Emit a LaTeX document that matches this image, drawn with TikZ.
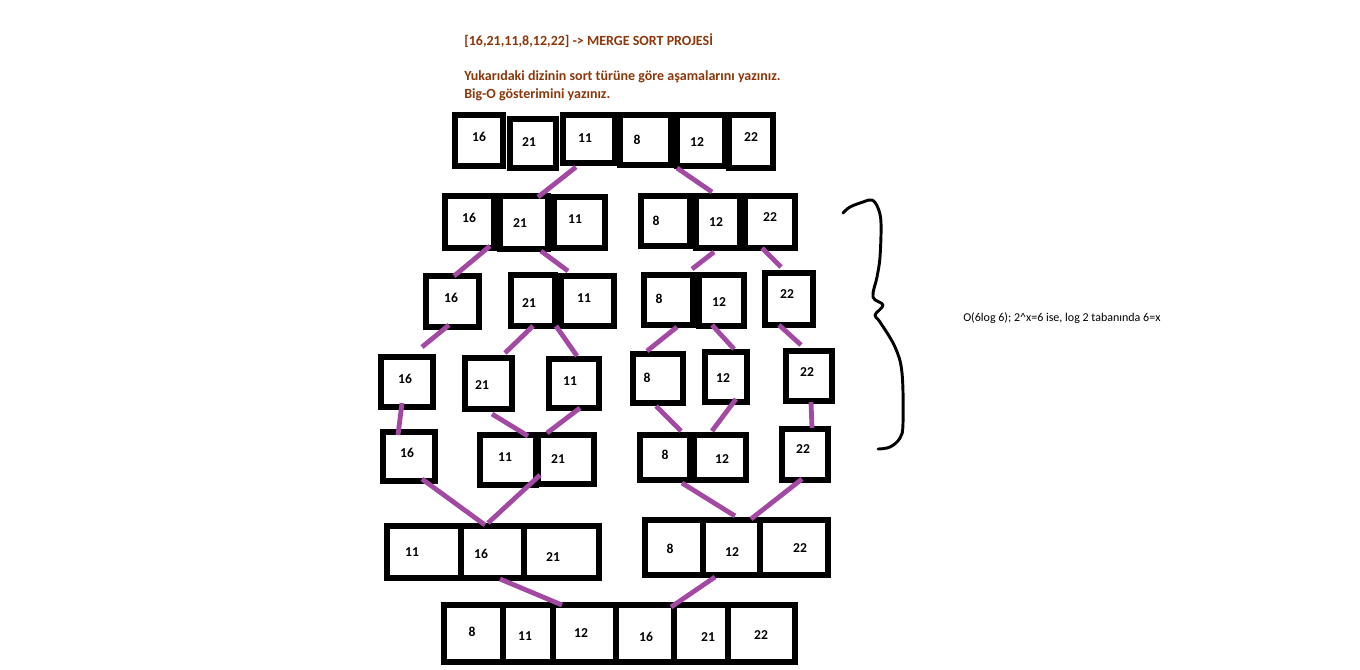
\documentclass[tikz,border=0pt]{standalone}
\usepackage{fontspec}
\setmainfont{Carlito}
\usetikzlibrary{fit,calc}
\definecolor{pline}{RGB}{163,73,164}
\definecolor{ttl}{RGB}{140,55,10}
\tikzset{
  cellbox/.style={draw=black, line width=4.2pt, inner sep=0pt, outer sep=0pt, rectangle},
  num/.style={font=\bfseries\fontsize{10.2}{12}\selectfont, inner sep=0pt, text=black},
  conn/.style={draw=pline, line width=3.6pt},
  ttltext/.style={font=\bfseries\fontsize{10.5}{12}\selectfont, text=ttl, anchor=west, inner sep=0pt},
  bracetext/.style={font=\fontsize{9}{11}\selectfont, text=black, anchor=west, inner sep=0pt},
  bracepath/.style={draw=black, line width=2.2pt, line cap=round, line join=round}
}
\newcommand\cell[8]{%
  \node[cellbox, fit={(#2,#3) (#4,#5)}] (#1) {};
  \node[num] (#1t) at (#7,#8) {#6};
}
\begin{document}
\begin{tikzpicture}[x=0.75pt,y=-0.75pt]
\useasboundingbox[fill=white] (0,0) rectangle (1360,669);

% titles
\node[ttltext] (title1) at (464,41) {[16,21,11,8,12,22] -> MERGE SORT PROJESİ};
\node[ttltext] (title2) at (464,77) {Yukarıdaki dizinin sort türüne göre aşamalarını yazınız.};
\node[ttltext] (title3) at (464,95) {Big-O gösterimini yazınız.};

% row 0
\cell{r0a}{455}{115}{503}{166}{16}{479}{137}
\cell{r0b}{510}{119}{556}{168}{21}{529}{142}
\cell{r0c}{563}{115}{615}{163}{11}{585}{138}
\cell{r0d}{620}{115}{671}{165}{8}{637}{140}
\cell{r0e}{677}{115}{725}{166}{12}{697}{142}
\cell{r0f}{729}{115}{773}{168}{22}{751}{137}

% row 1
\cell{r1a}{445}{196}{494}{248}{16}{469}{218}
\cell{r1b}{500}{196}{548}{249}{21}{520}{223}
\cell{r1c}{554}{197}{605}{248}{11}{575}{219}
\cell{r1d}{641}{196}{690}{246}{8}{656}{221}
\cell{r1e}{696}{196}{740}{248}{12}{716}{222}
\cell{r1f}{745}{196}{795}{248}{22}{770}{217}

% row 2
\cell{r2a}{426}{276}{479}{327}{16}{451}{298}
\cell{r2b}{511}{275}{555}{326}{21}{529}{303}
\cell{r2c}{561}{276}{614}{326}{11}{584}{298}
\cell{r2d}{644}{275}{693}{325}{8}{659}{299}
\cell{r2e}{699}{275}{744}{326}{12}{719}{302}
\cell{r2f}{765}{273}{813}{325}{22}{787}{294}

% row 3
\cell{r3a}{381}{357}{433}{407}{16}{405}{379}
\cell{r3b}{465}{358}{512}{409}{21}{482}{385}
\cell{r3c}{549}{359}{599}{408}{11}{570}{381}
\cell{r3d}{633}{354}{683}{403}{8}{647}{378}
\cell{r3e}{705}{352}{747}{402}{12}{723}{378}
\cell{r3f}{786}{351}{832}{401}{22}{807}{372}

% row 4
\cell{r4a}{383}{432}{435}{481}{16}{407}{453}
\cell{r4b}{480}{435}{536}{485}{11}{505}{457}
\cell{r4c}{538}{435}{594}{484}{21}{558}{459}
\cell{r4d}{640}{435}{690}{480}{8}{665}{455}
\cell{r4e}{694}{435}{746}{480}{12}{722}{459}
\cell{r4f}{782}{429}{828}{480}{22}{803}{449}

% row 5
\cell{r5a}{387}{526}{461}{578}{11}{412}{552}
\cell{r5b}{461}{526}{524}{578}{16}{481}{554}
\cell{r5c}{524}{526}{599}{578}{21}{553}{557}
\cell{r5d}{645}{520}{703}{575}{8}{670}{549}
\cell{r5e}{703}{520}{760}{575}{12}{732}{552}
\cell{r5f}{760}{520}{828}{575}{22}{800}{548}

% row 6
\cell{r6a}{444}{605}{503}{662}{8}{472}{632}
\cell{r6b}{503}{605}{553}{662}{11}{525}{636}
\cell{r6c}{553}{605}{616}{662}{12}{581}{633}
\cell{r6d}{616}{605}{674}{662}{16}{646}{637}
\cell{r6e}{674}{605}{728}{662}{21}{708}{637}
\cell{r6f}{728}{605}{795}{662}{22}{761}{635}

% connectors
\draw[conn] ($(r0c.south west)+(13,4)$) -- ($(r1b.north west)+(38,1)$);
\draw[conn] ($(r0e.south west)+(0,2)$) -- ($(r1e.north west)+(16,-4)$);
\draw[conn] ($(r1a.south west)+(45,-2)$) -- ($(r2a.north west)+(28,0)$);
\draw[conn] ($(r1b.south west)+(41,2)$) -- ($(r2c.north west)+(7,-5)$);
\draw[conn] ($(r1e.south west)+(18,4)$) -- ($(r2d.north west)+(48,-6)$);
\draw[conn] ($(r1f.south west)+(17,0)$) -- ($(r2f.north west)+(16,-6)$);
\draw[conn] ($(r2a.south west)+(23,-2)$) -- ($(r3a.north west)+(41,-10)$);
\draw[conn] ($(r2b.south west)+(22,0)$) -- ($(r3b.north west)+(40,-5)$);
\draw[conn] ($(r2c.south west)+(-5,0)$) -- ($(r3c.north west)+(28,-3)$);
\draw[conn] ($(r2d.south west)+(33,2)$) -- ($(r3d.north west)+(14,-3)$);
\draw[conn] ($(r2e.south west)+(13,-1)$) -- ($(r3e.north west)+(29,-3)$);
\draw[conn] ($(r2f.south west)+(14,0)$) -- ($(r3f.north west)+(15,-6)$);
\draw[conn] ($(r3a.south west)+(21,-4)$) -- ($(r4a.north west)+(15,3)$);
\draw[conn] ($(r3b.south west)+(27,5)$) -- ($(r4b.north west)+(48,1)$);
\draw[conn] ($(r3c.south west)+(31,0)$) -- ($(r4c.north west)+(9,-2)$);
\draw[conn] ($(r3d.south west)+(23,3)$) -- ($(r4d.north west)+(41,-4)$);
\draw[conn] ($(r3e.south west)+(31,-3)$) -- ($(r4e.north west)+(18,-4)$);
\draw[conn] ($(r3f.south west)+(25,1)$) -- ($(r4f.north west)+(30,-1)$);
\draw[conn] ($(r4a.south west)+(39,-2)$) -- ($(r5b.north west)+(24,-1)$);
\draw[conn] ($(r4c.south west)+(2,-9)$) -- ($(r5b.north west)+(27,-3)$);
\draw[conn] ($(r4d.south west)+(42,3)$) -- ($(r5e.north west)+(32,-4)$);
\draw[conn] ($(r4f.south west)+(20,-1)$) -- ($(r5e.north west)+(48,-1)$);
\draw[conn] ($(r5b.south west)+(39,1)$) -- ($(r6c.north west)+(9,0)$);
\draw[conn] ($(r5e.south west)+(12,2)$) -- ($(r6d.north west)+(55,2)$);

% brace
\draw[bracepath] plot[smooth, tension=0.6] coordinates {(843,213) (850,207) (863,202) (872,200) (878,208) (881,223) (880,257) (877,277) (873,297) (883,305) (875,315) (880,322) (895,347) (902,373) (903,423) (900,438) (890,447) (878,449)};
\node[bracetext] (bigo) at (963,318) {O(6log 6); 2\^{}x=6 ise, log 2 tabanında 6=x};
\end{tikzpicture}
\end{document}
